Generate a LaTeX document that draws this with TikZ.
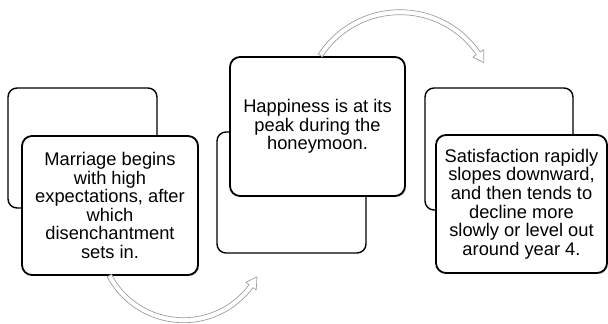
\documentclass[tikz,border=0pt]{standalone}
\usepackage{fontspec}
\setmainfont{Liberation Sans}
\usetikzlibrary{shadows}
\begin{document}
\begin{tikzpicture}[x=1pt,y=1pt,
  backbox/.style={draw=black,line width=1.4pt,rounded corners=9pt,fill=white,inner sep=0pt},
  frontbox/.style={draw=black,line width=1.8pt,rounded corners=10pt,fill=white,inner sep=0pt,
    align=center,font=\fontsize{18.3}{18.6}\selectfont,
    drop shadow={opacity=0.35,shadow xshift=1.2pt,shadow yshift=-1.2pt}},
  bandarrow/.style={draw=gray!75,line width=0.7pt,fill=white,line join=round}]
\useasboundingbox (0,0) rectangle (608,324);
% box 1
\node[backbox,minimum width=149pt,minimum height=120pt] (b1) at (82.5,176) {};
\node[frontbox,minimum width=176pt,minimum height=139pt] (f1) at (110,118.5)
  {Marriage begins\\with high\\expectations, after\\which\\disenchantment\\sets in.};
% box 2
\node[backbox,minimum width=149pt,minimum height=121pt] (b2) at (291.5,131.5) {};
\node[frontbox,minimum width=175pt,minimum height=139pt] (f2) at (317.5,197.5)
  {Happiness is at its\\peak during the\\honeymoon.};
% box 3
\node[backbox,minimum width=148pt,minimum height=122pt] (b3) at (499,175) {};
\node[frontbox,minimum width=171pt,minimum height=138pt] (f3) at (521.5,120)
  {Satisfaction rapidly\\slopes downward,\\and then tends to\\decline more\\slowly or level out\\around year 4.};
% arrow 1 (below, from box 1 to box 2)
\begin{scope}[shift={(183.5,87.8)}]
  \coordinate (a1s) at (208:84);
  \coordinate (a1t) at (331:84);
  \path[bandarrow] (208:86.5) arc[start angle=208,end angle=323.5,radius=86.5]
    -- (323.5:90.5) -- (331:84) -- (323.5:77.5) -- (323.5:81.5)
    arc[start angle=323.5,end angle=208,radius=81.5] -- cycle;
\end{scope}
% arrow 2 (above, from box 2 to box 3)
\begin{scope}[shift={(400,216.8)}]
  \coordinate (a2s) at (147:95);
  \coordinate (a2t) at (28:95);
  \path[bandarrow] (147:97.5) arc[start angle=147,end angle=34.5,radius=97.5]
    -- (34.5:101.5) -- (28:95) -- (34.5:88.5) -- (34.5:92.5)
    arc[start angle=34.5,end angle=147,radius=92.5] -- cycle;
\end{scope}
\end{tikzpicture}
\end{document}
